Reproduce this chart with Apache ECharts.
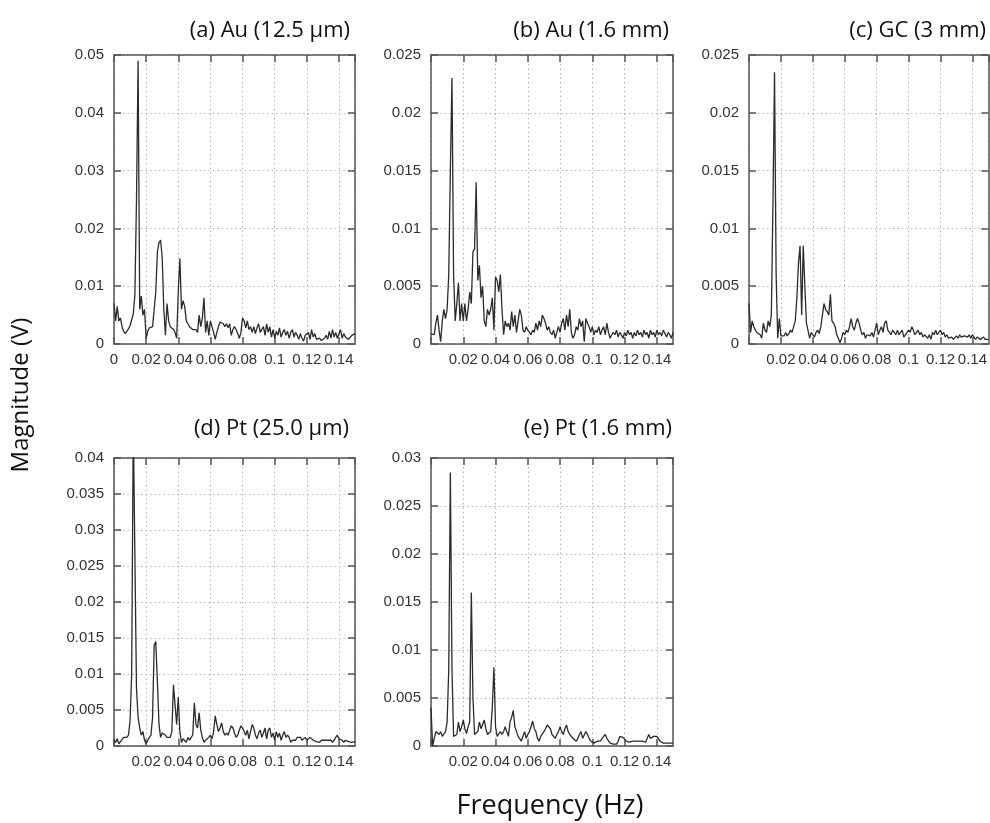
<!DOCTYPE html>
<html>
<head>
<meta charset="utf-8">
<script src="https://cdn.jsdelivr.net/npm/echarts@6/dist/echarts.min.js"></script>
<style>
  html, body { margin: 0; padding: 0; background: #fff; }
  #chart { width: 990px; height: 823px; }
</style>
</head>
<body>
<div id="chart"></div>
<script>
// frequency bins (Hz), shared by all five spectra
const freq = [
  0.000, 0.001, 0.002, 0.003, 0.004, 0.005, 0.006, 0.007, 0.008, 0.009,
  0.010, 0.011, 0.012, 0.013, 0.014, 0.015, 0.016, 0.017, 0.018, 0.019,
  0.020, 0.021, 0.022, 0.023, 0.024, 0.025, 0.026, 0.027, 0.028, 0.029,
  0.030, 0.031, 0.032, 0.033, 0.034, 0.035, 0.036, 0.037, 0.038, 0.039,
  0.040, 0.041, 0.042, 0.043, 0.044, 0.045, 0.046, 0.047, 0.048, 0.049,
  0.050, 0.051, 0.052, 0.053, 0.054, 0.055, 0.056, 0.057, 0.058, 0.059,
  0.060, 0.061, 0.062, 0.063, 0.064, 0.065, 0.066, 0.067, 0.068, 0.069,
  0.070, 0.071, 0.072, 0.073, 0.074, 0.075, 0.076, 0.077, 0.078, 0.079,
  0.080, 0.081, 0.082, 0.083, 0.084, 0.085, 0.086, 0.087, 0.088, 0.089,
  0.090, 0.091, 0.092, 0.093, 0.094, 0.095, 0.096, 0.097, 0.098, 0.099,
  0.100, 0.101, 0.102, 0.103, 0.104, 0.105, 0.106, 0.107, 0.108, 0.109,
  0.110, 0.111, 0.112, 0.113, 0.114, 0.115, 0.116, 0.117, 0.118, 0.119,
  0.120, 0.121, 0.122, 0.123, 0.124, 0.125, 0.126, 0.127, 0.128, 0.129,
  0.130, 0.131, 0.132, 0.133, 0.134, 0.135, 0.136, 0.137, 0.138, 0.139,
  0.140, 0.141, 0.142, 0.143, 0.144, 0.145, 0.146, 0.147, 0.148, 0.149,
  0.150
];

// magnitudes (V)
const magAu125um = [
  0.0070, 0.0040, 0.0065, 0.0040, 0.0045, 0.0030, 0.0022, 0.0018, 0.0020, 0.0026,
  0.0032, 0.0042, 0.0052, 0.0085, 0.0250, 0.0490, 0.0060, 0.0083, 0.0050, 0.0060,
  0.0010, 0.0022, 0.0028, 0.0030, 0.0030, 0.0060, 0.0090, 0.0160, 0.0175, 0.0180,
  0.0150, 0.0060, 0.0015, 0.0070, 0.0040, 0.0030, 0.0028, 0.0025, 0.0020, 0.0010,
  0.0090, 0.0148, 0.0060, 0.0075, 0.0065, 0.0040, 0.0035, 0.0030, 0.0028, 0.0025,
  0.0022, 0.0025, 0.0020, 0.0050, 0.0030, 0.0045, 0.0080, 0.0020, 0.0040, 0.0015,
  0.0040, 0.0030, 0.0020, 0.0008, 0.0020, 0.0030, 0.0038, 0.0040, 0.0035, 0.0030,
  0.0035, 0.0028, 0.0035, 0.0015, 0.0025, 0.0030, 0.0025, 0.0018, 0.0010, 0.0020,
  0.0045, 0.0040, 0.0028, 0.0040, 0.0025, 0.0030, 0.0020, 0.0030, 0.0018, 0.0028,
  0.0035, 0.0020, 0.0025, 0.0030, 0.0015, 0.0035, 0.0020, 0.0030, 0.0012, 0.0025,
  0.0010, 0.0022, 0.0015, 0.0028, 0.0012, 0.0020, 0.0025, 0.0015, 0.0022, 0.0010,
  0.0020, 0.0025, 0.0012, 0.0020, 0.0015, 0.0008, 0.0018, 0.0010, 0.0005, 0.0015,
  0.0012, 0.0020, 0.0008, 0.0025, 0.0012, 0.0018, 0.0008, 0.0005, 0.0010, 0.0006,
  0.0004, 0.0010, 0.0015, 0.0008, 0.0022, 0.0010, 0.0025, 0.0012, 0.0020, 0.0010,
  0.0012, 0.0025, 0.0010, 0.0018, 0.0012, 0.0015, 0.0008, 0.0010, 0.0015, 0.0012,
  0.0018
];

const magAu16mm = [
  0.0009, 0.0010, 0.0008, 0.0018, 0.0025, 0.0012, 0.0002, 0.0020, 0.0030, 0.0022,
  0.0030, 0.0060, 0.0150, 0.0230, 0.0060, 0.0020, 0.0035, 0.0053, 0.0020, 0.0035,
  0.0020, 0.0035, 0.0020, 0.0030, 0.0045, 0.0035, 0.0080, 0.0082, 0.0140, 0.0055,
  0.0068, 0.0040, 0.0050, 0.0020, 0.0015, 0.0030, 0.0025, 0.0030, 0.0040, 0.0012,
  0.0058, 0.0055, 0.0045, 0.0060, 0.0030, 0.0008, 0.0020, 0.0015, 0.0018, 0.0012,
  0.0028, 0.0015, 0.0025, 0.0010, 0.0020, 0.0030, 0.0025, 0.0012, 0.0010, 0.0015,
  0.0012, 0.0010, 0.0008, 0.0012, 0.0010, 0.0018, 0.0012, 0.0020, 0.0015, 0.0025,
  0.0022, 0.0018, 0.0012, 0.0015, 0.0010, 0.0008, 0.0012, 0.0005, 0.0010, 0.0015,
  0.0010, 0.0018, 0.0022, 0.0012, 0.0025, 0.0015, 0.0030, 0.0010, 0.0005, 0.0008,
  0.0015, 0.0012, 0.0022, 0.0015, 0.0020, 0.0002, 0.0022, 0.0018, 0.0015, 0.0010,
  0.0015, 0.0008, 0.0012, 0.0010, 0.0015, 0.0008, 0.0012, 0.0015, 0.0008, 0.0018,
  0.0010, 0.0005, 0.0008, 0.0010, 0.0008, 0.0012, 0.0006, 0.0010, 0.0008, 0.0005,
  0.0010, 0.0007, 0.0012, 0.0008, 0.0010, 0.0005, 0.0010, 0.0007, 0.0012, 0.0008,
  0.0010, 0.0006, 0.0012, 0.0008, 0.0010, 0.0005, 0.0012, 0.0008, 0.0010, 0.0006,
  0.0012, 0.0008, 0.0010, 0.0007, 0.0012, 0.0009, 0.0006, 0.0010, 0.0008, 0.0005,
  0.0010
];

const magGC3mm = [
  0.0035, 0.0010, 0.0020, 0.0015, 0.0012, 0.0010, 0.0009, 0.0008, 0.0005, 0.0018,
  0.0012, 0.0010, 0.0020, 0.0015, 0.0025, 0.0120, 0.0235, 0.0060, 0.0005, 0.0022,
  0.0007, 0.0008, 0.0007, 0.0010, 0.0007, 0.0009, 0.0012, 0.0010, 0.0015, 0.0020,
  0.0040, 0.0070, 0.0085, 0.0025, 0.0085, 0.0050, 0.0018, 0.0018, 0.0005, 0.0010,
  0.0008, 0.0006, 0.0010, 0.0012, 0.0009, 0.0015, 0.0025, 0.0035, 0.0030, 0.0028,
  0.0025, 0.0043, 0.0020, 0.0018, 0.0015, 0.0008, 0.0005, 0.0001, 0.0005, 0.0010,
  0.0008, 0.0012, 0.0010, 0.0015, 0.0022, 0.0015, 0.0012, 0.0018, 0.0022, 0.0018,
  0.0012, 0.0008, 0.0010, 0.0005, 0.0008, 0.0009, 0.0007, 0.0010, 0.0006, 0.0012,
  0.0018, 0.0008, 0.0012, 0.0015, 0.0010, 0.0018, 0.0020, 0.0012, 0.0010, 0.0008,
  0.0012, 0.0010, 0.0008, 0.0012, 0.0008, 0.0010, 0.0012, 0.0006, 0.0005, 0.0010,
  0.0012, 0.0010, 0.0015, 0.0012, 0.0008, 0.0010, 0.0012, 0.0008, 0.0010, 0.0006,
  0.0008, 0.0007, 0.0005, 0.0008, 0.0004, 0.0010, 0.0008, 0.0012, 0.0008, 0.0010,
  0.0012, 0.0008, 0.0010, 0.0006, 0.0008, 0.0005, 0.0004, 0.0006, 0.0004, 0.0005,
  0.0007, 0.0005, 0.0008, 0.0006, 0.0005, 0.0007, 0.0008, 0.0006, 0.0008, 0.0005,
  0.0008, 0.0006, 0.0004, 0.0006, 0.0005, 0.0004, 0.0005, 0.0006, 0.0004, 0.0003,
  0.0004
];

const magPt250um = [
  0.0008, 0.0005, 0.0010, 0.0003, 0.0006, 0.0008, 0.0012, 0.0010, 0.0012, 0.0015,
  0.0035, 0.0100, 0.0450, 0.0450, 0.0080, 0.0040, 0.0025, 0.0015, 0.0020, 0.0008,
  0.0003, 0.0008, 0.0012, 0.0015, 0.0040, 0.0140, 0.0145, 0.0090, 0.0030, 0.0012,
  0.0018, 0.0016, 0.0015, 0.0012, 0.0010, 0.0012, 0.0020, 0.0085, 0.0085, 0.0030,
  0.0068, 0.0020, 0.0005, 0.0010, 0.0012, 0.0005, 0.0012, 0.0008, 0.0012, 0.0015,
  0.0060, 0.0030, 0.0025, 0.0046, 0.0022, 0.0012, 0.0005, 0.0008, 0.0010, 0.0012,
  0.0015, 0.0010, 0.0020, 0.0042, 0.0030, 0.0020, 0.0025, 0.0032, 0.0020, 0.0015,
  0.0018, 0.0015, 0.0022, 0.0028, 0.0025, 0.0018, 0.0012, 0.0015, 0.0022, 0.0028,
  0.0025, 0.0020, 0.0015, 0.0022, 0.0010, 0.0020, 0.0030, 0.0025, 0.0015, 0.0010,
  0.0018, 0.0022, 0.0012, 0.0018, 0.0025, 0.0010, 0.0022, 0.0025, 0.0012, 0.0018,
  0.0008, 0.0020, 0.0012, 0.0018, 0.0008, 0.0015, 0.0020, 0.0012, 0.0015, 0.0012,
  0.0005, 0.0008, 0.0010, 0.0008, 0.0012, 0.0010, 0.0012, 0.0008, 0.0010, 0.0012,
  0.0008, 0.0010, 0.0012, 0.0010, 0.0008, 0.0010, 0.0006, 0.0008, 0.0005, 0.0008,
  0.0006, 0.0008, 0.0010, 0.0008, 0.0010, 0.0008, 0.0005, 0.0008, 0.0012, 0.0015,
  0.0010, 0.0012, 0.0008, 0.0005, 0.0008, 0.0010, 0.0006, 0.0008, 0.0005, 0.0004,
  0.0006
];

const magPt16mm = [
  0.0040, 0.0000, 0.0008, 0.0015, 0.0015, 0.0012, 0.0015, 0.0010, 0.0012, 0.0015,
  0.0025, 0.0080, 0.0285, 0.0080, 0.0010, 0.0010, 0.0012, 0.0025, 0.0015, 0.0020,
  0.0027, 0.0018, 0.0013, 0.0020, 0.0025, 0.0160, 0.0050, 0.0012, 0.0012, 0.0015,
  0.0025, 0.0018, 0.0020, 0.0027, 0.0018, 0.0012, 0.0012, 0.0015, 0.0040, 0.0082,
  0.0020, 0.0010, 0.0012, 0.0015, 0.0012, 0.0015, 0.0020, 0.0015, 0.0010, 0.0025,
  0.0030, 0.0037, 0.0020, 0.0015, 0.0010, 0.0008, 0.0005, 0.0010, 0.0015, 0.0008,
  0.0012, 0.0015, 0.0020, 0.0026, 0.0018, 0.0015, 0.0008, 0.0005, 0.0010, 0.0012,
  0.0015, 0.0018, 0.0022, 0.0020, 0.0018, 0.0012, 0.0010, 0.0008, 0.0012, 0.0015,
  0.0020, 0.0015, 0.0012, 0.0018, 0.0022, 0.0015, 0.0012, 0.0010, 0.0008, 0.0006,
  0.0005, 0.0008, 0.0012, 0.0015, 0.0008, 0.0010, 0.0015, 0.0012, 0.0008, 0.0005,
  0.0004, 0.0003, 0.0004, 0.0005, 0.0003, 0.0005, 0.0008, 0.0010, 0.0012, 0.0008,
  0.0006, 0.0003, 0.0004, 0.0002, 0.0003, 0.0002, 0.0005, 0.0010, 0.0008, 0.0009,
  0.0008, 0.0005, 0.0003, 0.0004, 0.0003, 0.0005, 0.0004, 0.0005, 0.0003, 0.0005,
  0.0006, 0.0005, 0.0003, 0.0004, 0.0005, 0.0012, 0.0008, 0.0006, 0.0010, 0.0009,
  0.0010, 0.0008, 0.0005, 0.0004, 0.0003, 0.0004, 0.0003, 0.0004, 0.0003, 0.0004,
  0.0003
];

const panelTitles = ["(a) Au (12.5 µm)", "(b) Au (1.6 mm)", "(c) GC (3 mm)", "(d) Pt (25.0 µm)", "(e) Pt (1.6 mm)"];
const panelMags = [magAu125um, magAu16mm, magGC3mm, magPt250um, magPt16mm];
const yMax = [0.05, 0.025, 0.025, 0.04, 0.03];
const yStep = [0.01, 0.005, 0.005, 0.005, 0.005];
const showZeroX = [true, false, false, false, false];

// layout (px)
const boxes = [
  { left: 114, top: 55, width: 241, height: 289, titleX: 350, titleY: 31 },
  { left: 431, top: 55, width: 242, height: 289, titleX: 669, titleY: 31 },
  { left: 749, top: 55, width: 241, height: 289, titleX: 986, titleY: 31 },
  { left: 114, top: 458, width: 241, height: 288, titleX: 349, titleY: 429 },
  { left: 431, top: 458, width: 242, height: 288, titleX: 672, titleY: 429 },
];

const axisColor = "#555";
const lineColor = "#2b2b2b";
const tickFont = { fontFamily: "Liberation Sans, Arial, sans-serif", fontSize: 15, color: "#333" };

const chart = echarts.init(document.getElementById("chart"));

const grid = [], xAxis = [], yAxis = [], series = [], graphic = [];

const fmt = (v) => String(parseFloat(Number(v).toFixed(4)));

boxes.forEach((b, i) => {
  grid.push({ left: b.left, top: b.top, width: b.width, height: b.height });

  const axisLine = { show: true, onZero: false, lineStyle: { color: axisColor, width: 1.5 } };
  const axisTick = { show: true, inside: true, length: 7, lineStyle: { color: axisColor, width: 1.5 } };
  const splitLine = { show: true, lineStyle: { color: "#b5b5b5", width: 1, type: [1.5, 3] } };

  // bottom x axis
  xAxis.push({
    type: "value", gridIndex: i, position: "bottom", min: 0, max: 0.15, interval: 0.02,
    axisLine, axisTick, splitLine,
    axisLabel: {
      ...tickFont, margin: 8, showMaxLabel: false,
      formatter: (v) => (v === 0 && !showZeroX[i]) ? "" : fmt(v),
    },
  });
  // mirrored top x axis
  xAxis.push({
    type: "value", gridIndex: i, position: "top", min: 0, max: 0.15, interval: 0.02,
    axisLine, axisTick, splitLine: { show: false }, axisLabel: { show: false },
  });
  // left y axis
  yAxis.push({
    type: "value", gridIndex: i, position: "left", min: 0, max: yMax[i], interval: yStep[i],
    axisLine, axisTick, splitLine,
    axisLabel: { ...tickFont, margin: 10, formatter: (v) => fmt(v) },
  });
  // mirrored right y axis
  yAxis.push({
    type: "value", gridIndex: i, position: "right", min: 0, max: yMax[i], interval: yStep[i],
    axisLine, axisTick, splitLine: { show: false }, axisLabel: { show: false },
  });

  series.push({
    type: "line",
    xAxisIndex: i * 2,
    yAxisIndex: i * 2,
    data: freq.map((f, k) => [f, panelMags[i][k]]),
    showSymbol: false,
    clip: true,
    lineStyle: { color: lineColor, width: 1.3 },
    z: 5,
  });

  graphic.push({
    type: "text", x: b.titleX, y: b.titleY,
    style: {
      text: panelTitles[i], fill: "#111",
      font: "22px 'Open Sans', sans-serif",
      align: "right", verticalAlign: "middle",
    },
  });
});

// shared axis titles
graphic.push({
  type: "text", x: 550, y: 806,
  style: { text: "Frequency (Hz)", fill: "#111", font: "27px 'Open Sans', sans-serif", align: "center", verticalAlign: "middle" },
});
graphic.push({
  type: "text", x: 21, y: 395, rotation: Math.PI / 2,
  style: { text: "Magnitude (V)", fill: "#111", font: "24px 'Open Sans', sans-serif", align: "center", verticalAlign: "middle" },
});

chart.setOption({
  animation: false,
  backgroundColor: "#fff",
  grid, xAxis, yAxis, series, graphic,
});

window.addEventListener("resize", () => chart.resize());
</script>
</body>
</html>
